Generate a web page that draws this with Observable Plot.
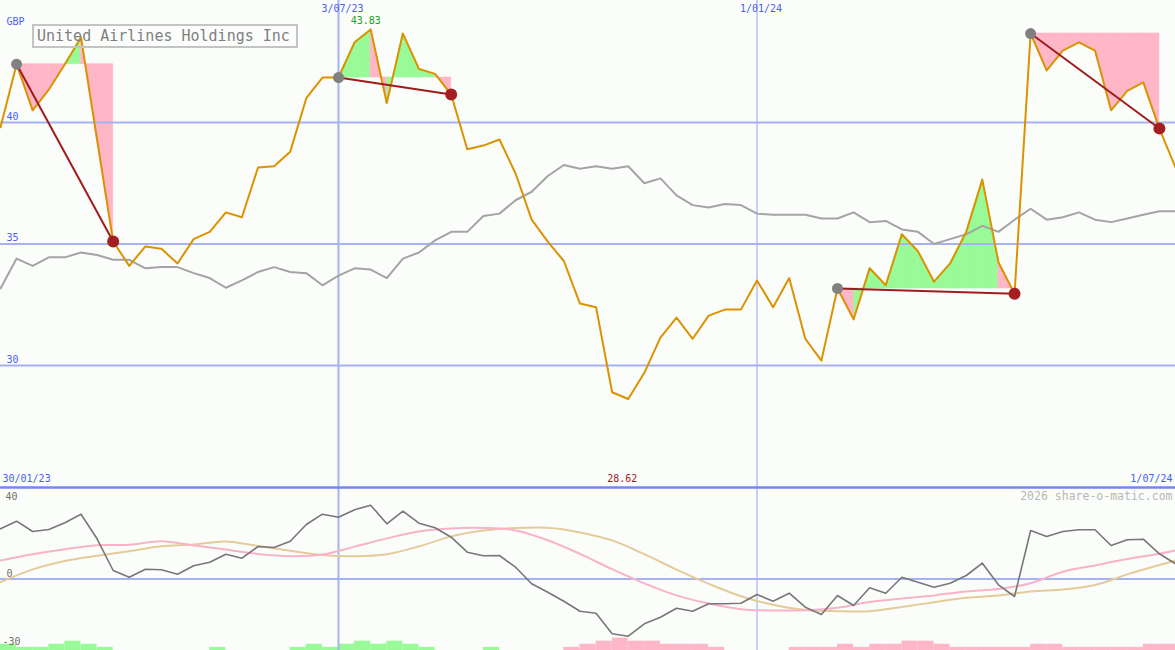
<!DOCTYPE html>
<html><head><meta charset="utf-8">
<script src="https://cdn.jsdelivr.net/npm/d3@7"></script>
<script src="https://cdn.jsdelivr.net/npm/@observablehq/plot@0.6"></script>
<style>
html,body{margin:0;padding:0;background:#fbfdfb;}
#wrap{position:relative;width:1175px;height:650px;overflow:hidden;background:#fbfdfb;}
#wrap svg{display:block;}
#title{position:absolute;left:32px;top:24px;width:259px;height:20px;border:2px solid #c4c4c4;font:15px "DejaVu Sans Mono",monospace;color:#808080;line-height:20px;padding-left:3px;z-index:2;}
</style></head><body>
<div id="wrap"><div id="title">United Airlines Holdings Inc</div></div>
<script>
// ---------- data (weekly, index 0 = first week) ----------
const price = [39.8, 42.4, 40.5, 41.35, 42.4, 43.5, 39.3, 35.1, 34.1, 34.9,
  34.8, 34.2, 35.2, 35.5, 36.3, 36.1, 38.15, 38.2, 38.8, 41.0,
  41.85, 41.85, 43.3, 43.83, 40.8, 43.66, 42.2, 42.0, 41.15, 38.9,
  39.05, 39.3, 37.9, 36.0, 35.1, 34.3, 32.55, 32.4, 28.9, 28.62,
  29.7, 31.15, 31.97, 31.1, 32.05, 32.3, 32.3, 33.5, 32.4, 33.6,
  31.1, 30.2, 33.17, 31.9, 34.0, 33.3, 35.4, 34.7, 33.45, 34.2,
  35.5, 37.65, 34.25, 32.95, 43.66, 42.14, 42.96, 43.3, 42.96, 40.5,
  41.3, 41.65, 39.75, 38.15];
const benchmark = [33.17, 34.4, 34.1, 34.45, 34.45, 34.65, 34.55, 34.35, 34.35, 34.0,
  34.05, 34.05, 33.8, 33.6, 33.2, 33.5, 33.85, 34.05, 33.85, 33.8,
  33.3, 33.7, 34.0, 33.95, 33.6, 34.4, 34.65, 35.15, 35.5, 35.5,
  36.15, 36.25, 36.8, 37.15, 37.8, 38.25, 38.1, 38.2, 38.1, 38.2,
  37.5, 37.7, 37.0, 36.6, 36.5, 36.65, 36.6, 36.25, 36.2, 36.2,
  36.2, 36.05, 36.05, 36.3, 35.9, 35.95, 35.6, 35.5, 35.0, 35.2,
  35.4, 35.75, 35.5, 36.0, 36.45, 36.0, 36.1, 36.3, 36.0, 35.9,
  36.05, 36.2, 36.35, 36.35];
const momentum = [25.1, 28.9, 23.75, 24.75, 28.1, 32.4, 20.1, 4.25, 0.9, 4.9,
  4.6, 2.4, 6.6, 8.4, 12.4, 10.4, 16.25, 15.75, 18.9, 27.25,
  32.4, 30.9, 34.6, 36.9, 27.6, 33.9, 27.9, 25.6, 20.9, 13.4,
  11.6, 11.75, 5.9, -2.4, -6.6, -11.1, -16.1, -17.1, -27.4, -28.6,
  -22.4, -19.1, -14.6, -16.1, -12.4, -12.4, -12.1, -7.75, -11.1, -7.1,
  -14.1, -17.75, -8.25, -13.25, -4.4, -7.1, 0.9, -1.6, -4.1, -2.1,
  1.75, 7.9, -2.9, -8.75, 24.25, 21.25, 23.75, 24.6, 24.6, 16.75,
  19.6, 19.9, 12.6, 7.6];
const smoothWeeks = [0,2,4,6,8,10,12,14,16,18,20,22,24,26,28,30,32,34,36,38,40,42,44,46,48,50,52,54,56,58,60,62,64,66,68,70,72,73];
const fastAvg = [9.25, 12.4, 14.9, 16.9, 17.1, 18.9, 16.8, 14.7, 12.5, 11.4,
  12.2, 16.2, 20.3, 23.8, 25.3, 25.5, 24.3, 19.4, 12.6, 4.9,
  -2.2, -8.2, -12.3, -15.1, -15.75, -15.6, -14.4, -11.5, -9.8, -8.2,
  -6.2, -5.0, -2.1, 3.6, 6.8, 10.0, 12.6, 14.25];
const slowAvg = [-1.6, 4.8, 9.0, 11.6, 13.9, 16.4, 17.2, 18.8, 16.5, 14.1,
  12.0, 11.4, 12.4, 16.3, 21.3, 24.2, 25.5, 25.6, 23.3, 19.3,
  12.4, 4.7, -2.4, -8.6, -12.9, -15.5, -16.1, -16.1, -14.0, -11.6,
  -9.4, -8.3, -6.2, -5.3, -3.0, 2.3, 7.0, 9.25];
const signalBars = [2,1,1,2,3,2,1,0,0,0, 0,0,0,1,0,0,0,0,1,2, 1,2,3,2,3,2,1,0,0,0,
  1,0,0,0,0,-1,-2,-3,-4,-3, -3,-2,-2,-2,-1,0,0,0,0,-1, -1,-1,-2,-1,-2,-2,-3,-3,-2,-1,
  -1,-1,-1,-1,-2,-2,-1,-1,-1,-1, -1,-2,-2];
const trendStart = [1, 21, 52, 64];
const trendEnd = [7, 28, 63, 72];
const dateLabels = ["3/07/23", "1/01/24"];
const dateWeeks = [21, 47];
const firstDate = "30/01/23";
const lastDate = "1/07/24";
const priceTicks = [30, 35, 40];
const lowerTicks = [40, 0, -30];
const currency = "GBP";
const credit = "2026 share-o-matic.com";

// ---------- style ----------
const W = 1175;
const FONT = "DejaVu Sans Mono";
const BLUE_GRID = "#a6b2f2";
const BLUE_TEXT = "#4a5ef2";
const GREEN = "#98fb98";
const PINK = "#ffb6c6";
const nW = price.length - 1;

// fill rows between price and reference level for each trend segment
const fillRows = [];
trendStart.forEach((s, j) => {
  const e = trendEnd[j], ref = price[s];
  for (let i = s; i < e; i++) {
    const up = price[i + 1] > ref, k = j + "-" + i;
    fillRows.push({w: i, v: price[i], ref, k, up}, {w: i + 1, v: price[i + 1], ref, k, up});
  }
});
const maxI = d3.maxIndex(price), minI = d3.minIndex(price);

const main = Plot.plot({
  width: W, height: 487, margin: 0,
  x: {domain: [0, nW], axis: null},
  y: {domain: [24.98, 45.02], axis: null},
  style: {background: "transparent", overflow: "visible"},
  marks: [
    Plot.areaY(fillRows.filter(d => d.up), {x: "w", y1: "ref", y2: "v", z: "k", fill: GREEN, stroke: GREEN, strokeWidth: 0.6}),
    Plot.areaY(fillRows.filter(d => !d.up), {x: "w", y1: "ref", y2: "v", z: "k", fill: PINK, stroke: PINK, strokeWidth: 0.6}),
    Plot.ruleY(priceTicks, {stroke: BLUE_GRID, strokeWidth: 2}),
    Plot.ruleX(dateWeeks, {stroke: BLUE_GRID, strokeWidth: (d, i) => i === 0 ? 2 : 1.2}),
    Plot.line(benchmark, {x: (d, i) => i, y: d => d, stroke: "#a4a4a4", strokeWidth: 2}),
    Plot.line(price, {x: (d, i) => i, y: d => d, stroke: "#dc9200", strokeWidth: 2}),
    Plot.link(trendStart, {x1: d => d, y1: d => price[d], x2: (d, i) => trendEnd[i], y2: (d, i) => price[trendEnd[i]], stroke: "#a01c1c", strokeWidth: 2}),
    Plot.dot(trendStart, {x: d => d, y: d => price[d], r: 5.5, fill: "#808080"}),
    Plot.dot(trendEnd, {x: d => d, y: d => price[d], r: 6, fill: "#a42020"}),
    Plot.text([currency], {frameAnchor: "top-left", textAnchor: "start", lineAnchor: "middle", dx: 6, dy: 21, fill: BLUE_TEXT, fontSize: 10, fontFamily: FONT}),
    Plot.text(priceTicks, {frameAnchor: "left", y: d => d, text: d => String(d), textAnchor: "start", lineAnchor: "middle", dx: 6, dy: -6, fill: BLUE_TEXT, fontSize: 10, fontFamily: FONT}),
    Plot.text(dateLabels, {x: (d, i) => dateWeeks[i], frameAnchor: "top", lineAnchor: "middle", dy: 8, dx: 4, fill: BLUE_TEXT, fontSize: 10, fontFamily: FONT}),
    Plot.text([maxI], {x: d => d, y: d => price[d], text: d => price[d].toFixed(2), lineAnchor: "middle", dx: -5, dy: -8.5, fill: "#22a022", fontSize: 10, fontFamily: FONT}),
    Plot.text([minI], {x: d => d, frameAnchor: "bottom", text: d => price[d].toFixed(2), lineAnchor: "middle", dx: -6, dy: -8.5, fill: "#a01c1c", fontSize: 10, fontFamily: FONT}),
    Plot.text([firstDate], {frameAnchor: "bottom-left", textAnchor: "start", lineAnchor: "middle", dx: 2, dy: -8.5, fill: BLUE_TEXT, fontSize: 10, fontFamily: FONT}),
    Plot.text([lastDate], {frameAnchor: "bottom-right", textAnchor: "end", lineAnchor: "middle", dx: -3, dy: -8.5, fill: BLUE_TEXT, fontSize: 10, fontFamily: FONT})
  ]
});

const lowerDomain = [-35.75, 45.75];
const barUnit = 1.55;
const lower = Plot.plot({
  width: W, height: 163, margin: 0,
  x: {domain: [0, nW], axis: null},
  y: {domain: lowerDomain, axis: null},
  style: {background: "transparent", overflow: "visible"},
  marks: [
    Plot.rect(signalBars, {filter: d => d > 0, x1: (d, i) => i, x2: (d, i) => i + 1, y1: lowerDomain[0], y2: d => lowerDomain[0] + Math.abs(d) * barUnit, fill: GREEN}),
    Plot.rect(signalBars, {filter: d => d < 0, x1: (d, i) => i, x2: (d, i) => i + 1, y1: lowerDomain[0], y2: d => lowerDomain[0] + Math.abs(d) * barUnit, fill: PINK}),
    Plot.ruleY([0], {stroke: BLUE_GRID, strokeWidth: 2}),
    Plot.ruleX(dateWeeks, {stroke: BLUE_GRID, strokeWidth: (d, i) => i === 0 ? 2 : 1.2}),
    Plot.ruleY([lowerDomain[1]], {stroke: "#7686ee", strokeWidth: 2.5}),
    Plot.line(slowAvg, {x: (d, i) => smoothWeeks[i], y: d => d, curve: "catmull-rom", stroke: "#e4cb9a", strokeWidth: 2}),
    Plot.line(fastAvg, {x: (d, i) => smoothWeeks[i], y: d => d, curve: "catmull-rom", stroke: "#f9b3c8", strokeWidth: 2}),
    Plot.line(momentum, {x: (d, i) => i, y: d => d, stroke: "#777777", strokeWidth: 1.6}),
    ...lowerTicks.map((t, i) => Plot.text([t], {frameAnchor: "left", y: d => d, text: d => String(d), textAnchor: "start", lineAnchor: "middle", dx: [5, 6, 2][i], dy: [-2, -5.5, 3][i], fill: "#707070", fontSize: 10, fontFamily: FONT})),
    Plot.text([credit], {frameAnchor: "top-right", textAnchor: "end", lineAnchor: "middle", dx: -3, dy: 9, fill: "#b8b8b8", fontSize: 11.5, fontFamily: FONT})
  ]
});

const wrap = document.getElementById("wrap");
wrap.appendChild(main);
wrap.appendChild(lower);
</script>
</body></html>
